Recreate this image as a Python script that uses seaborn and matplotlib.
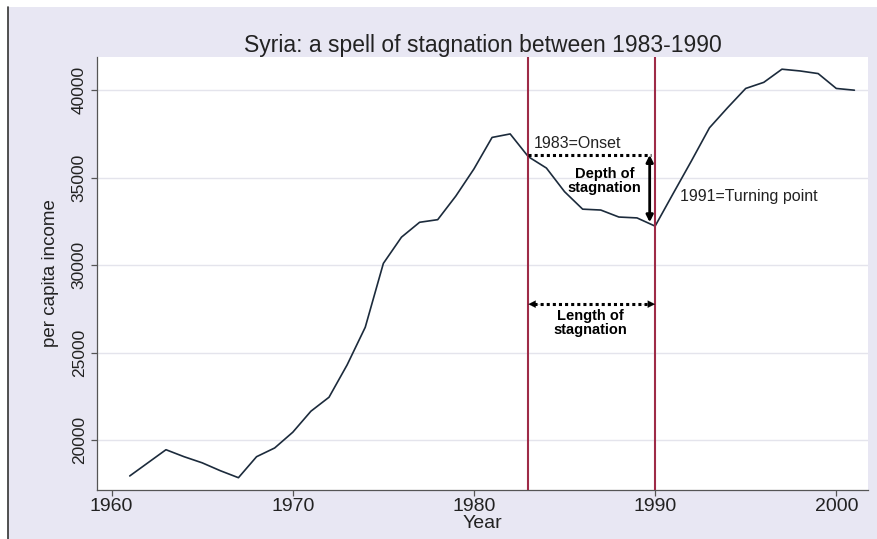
import matplotlib
matplotlib.use("Agg")
import matplotlib.pyplot as plt
import seaborn as sns
import pandas as pd
from matplotlib.patches import Rectangle
from matplotlib.lines import Line2D

# per capita income
years = list(range(1961, 2002))
income = [17950, 18700, 19450, 19050, 18700, 18250, 17850, 19050, 19550, 20450,
          21650, 22450, 24300, 26450, 30100, 31600, 32450, 32600, 33950, 35500,
          37300, 37500, 36200, 35550, 34200, 33200, 33150, 32750, 32700, 32230,
          34100, 35950, 37850, 39000, 40100, 40450, 41200, 41100, 40950, 40100,
          40000]
onset_year = 1983
turn_year = 1990
x_ticks = [1960, 1970, 1980, 1990, 2000]
y_ticks = [20000, 25000, 30000, 35000, 40000]

df = pd.DataFrame({"Year": years, "income": income})

sns.set_theme(style="white")
plt.rcParams['font.family'] = ['Liberation Sans', 'DejaVu Sans']

fig = plt.figure(figsize=(8.78, 5.39), dpi=100)
fig.patch.set_facecolor("white")
# Stata-like lavender backdrop with a thin frame on the left
fig.add_artist(Rectangle((8 / 878, 0), 1, 1 - 7 / 539, transform=fig.transFigure,
                         facecolor="#e8e7f3", edgecolor="none", zorder=-10))
fig.add_artist(Line2D([8 / 878, 8 / 878], [0, 1 - 7 / 539], transform=fig.transFigure,
                      color="#333333", lw=1.2))

ax = fig.add_axes([0.110, 0.091, 0.879, 0.803])
ax.set_facecolor("white")

sns.lineplot(data=df, x="Year", y="income", ax=ax, color="#1c2b3c", lw=1.2)

ax.set_xlim(1959.17, 2001.77)
ax.set_ylim(17150, 41890)
ax.set_xticks(x_ticks)
ax.set_yticks(y_ticks)
ax.yaxis.grid(True, color="#e4e4ec", lw=1)
ax.set_axisbelow(True)

for s in ["top", "right"]:
    ax.spines[s].set_visible(False)
for s in ["left", "bottom"]:
    ax.spines[s].set_color("#555555")
    ax.spines[s].set_linewidth(0.9)

ax.tick_params(axis="x", labelsize=14, colors="#555555", labelcolor="#222222",
               length=4, width=0.9, pad=2, bottom=True)
ax.tick_params(axis="y", labelsize=12.5, colors="#555555", labelcolor="#222222",
               length=4, width=0.9, pad=3, left=True)
for lab in ax.get_yticklabels():
    lab.set_rotation(90)
    lab.set_va("center")

ax.set_xlabel("Year", fontsize=14, color="#222222", labelpad=0)
ax.set_ylabel("per capita income", fontsize=13.5, color="#222222", labelpad=9)
ax.set_title("Syria: a spell of stagnation between 1983-1990", fontsize=16.5,
             color="#222222", pad=4)

# onset and turning point
for yr in [onset_year, turn_year]:
    ax.axvline(yr, color="#9e2b47", lw=1.5, zorder=3)

# depth of stagnation
ax.plot([onset_year, 1989.75], [36300, 36300], color="black", lw=2.2,
        linestyle=(0, (1, 1)), zorder=4)
ax.annotate("", xy=(1989.7, 32450), xytext=(1989.7, 36300),
            arrowprops=dict(arrowstyle="<|-|>", color="black", lw=2,
                            mutation_scale=10, shrinkA=0, shrinkB=0), zorder=4)
ax.text(1983.3, 36970, "1983=Onset", fontsize=11.5, color="#222222",
        ha="left", va="center")
ax.text(1987.2, 34800, "Depth of\nstagnation", fontsize=10.5, fontweight="bold",
        ha="center", va="center", linespacing=1.0, color="black")
ax.text(1991.4, 33940, "1991=Turning point", fontsize=11.5, color="#222222",
        ha="left", va="center")

# length of stagnation
ax.plot([onset_year + 0.3, turn_year - 0.3], [27770, 27770], color="black", lw=2.2,
        linestyle=(0, (1, 1)), zorder=4)
for a, b in [(onset_year + 0.7, onset_year), (turn_year - 0.7, turn_year)]:
    ax.annotate("", xy=(b, 27770), xytext=(a, 27770),
                arrowprops=dict(arrowstyle="-|>", color="black", lw=0.1,
                                mutation_scale=13, shrinkA=0, shrinkB=0), zorder=4)
ax.text(1986.4, 26710, "Length of\nstagnation", fontsize=10.5, fontweight="bold",
        ha="center", va="center", linespacing=1.0, color="black")

plt.savefig("out.png", dpi=100)
